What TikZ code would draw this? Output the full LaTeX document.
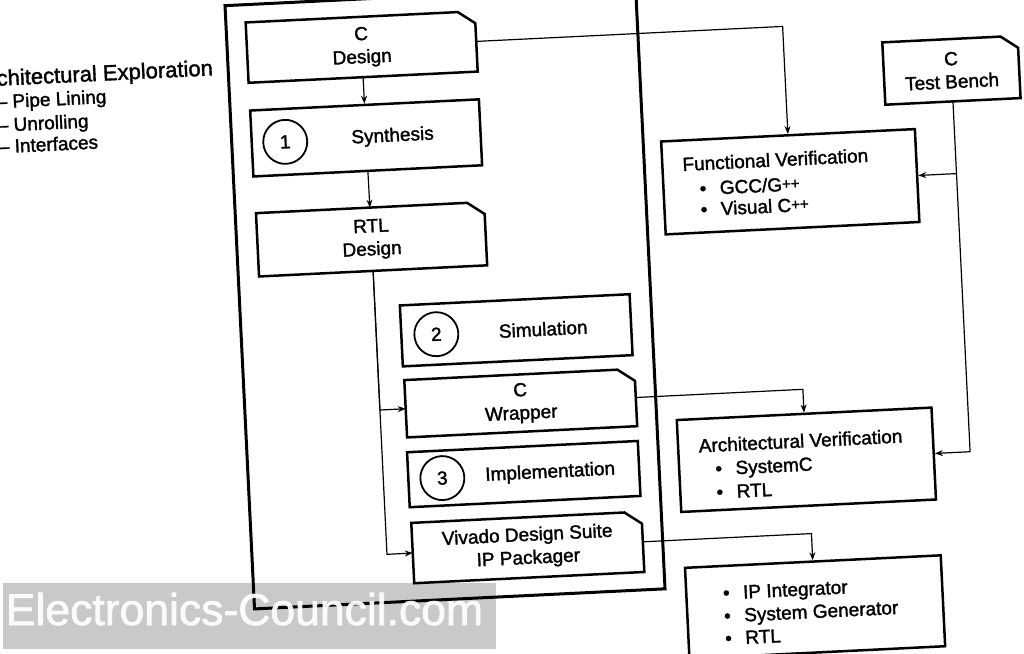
\documentclass[tikz,border=0pt]{standalone}
\usepackage{fontspec}
\setmainfont{Liberation Sans}[FakeBold=1.6]
\usetikzlibrary{arrows.meta,calc}
\newcommand{\chamferbox}[1]{\draw[line width=2.5pt, line join=miter] (#1.north west) -- ([xshift=-17pt]#1.north east) -- ([yshift=-12pt]#1.north east) -- (#1.south east) -- (#1.south west) -- cycle;}
\newcommand{\pp}{\raisebox{2pt}{\fontsize{15}{15}\selectfont ++}}
\begin{document}
\begin{tikzpicture}[x=1pt,y=-1pt,
  txt/.style={font=\fontsize{19}{23}\selectfont, inner sep=0pt},
  box/.style={draw, line width=2.5pt, inner sep=0pt},
  nobox/.style={inner sep=0pt},
  circ/.style={draw, circle, line width=1.8pt, minimum size=44pt, inner sep=0pt, font=\fontsize{19}{23}\selectfont},
  conn/.style={line width=1.2pt, -{Stealth[length=8pt,width=6pt]}}
]
\useasboundingbox (0,0) rectangle (1024,653);
\clip (0,0) rectangle (1024,653);
\fill[white] (0,0) rectangle (1024,653);
\begin{scope}[rotate around={2.8:(512,326)}, transform shape]
  % container
  \node[draw, line width=3pt, minimum width=411pt, minimum height=604pt, inner sep=0pt] (frame) at (446.5,294) {};
  % left column
  \node[nobox, txt, align=center, minimum width=229pt, minimum height=60pt] (cdesign) at (375.5,40) {C\\Design};
  \chamferbox{cdesign}
  \node[box, minimum width=229pt, minimum height=66pt] (synth) at (375.5,131) {};
  \node[circ] (n1) at (294.5,131) {1};
  \node[txt] (synthT) at (402,131) {Synthesis};
  \node[nobox, txt, align=center, minimum width=228pt, minimum height=63pt] (rtl) at (376,232.5) {RTL\\Design};
  \chamferbox{rtl}
  % right column inside frame
  \node[box, minimum width=230pt, minimum height=61pt] (sim) at (516,330.5) {};
  \node[circ] (n2) at (436,330.5) {2};
  \node[txt] (simT) at (543,330.5) {Simulation};
  \node[nobox, txt, align=center, minimum width=230pt, minimum height=57pt] (wrap) at (517,403.5) {C\\Wrapper};
  \chamferbox{wrap}
  \node[box, minimum width=231pt, minimum height=55pt] (impl) at (516.5,474.5) {};
  \node[circ] (n3) at (435,474.5) {3};
  \node[txt] (implT) at (543,474.5) {Implementation};
  \node[nobox, txt, align=center, minimum width=230pt, minimum height=60pt] (vivado) at (517,548) {Vivado Design Suite\\IP Packager};
  \chamferbox{vivado}
  % right side
  \node[nobox, txt, align=center, minimum width=135pt, minimum height=62pt] (ctb) at (963.5,92) {C\\Test Bench};
  \chamferbox{ctb}
  \node[box, minimum width=254pt, minimum height=93pt] (fv) at (797,195.5) {};
  \node[txt, anchor=base west] (fv0) at (690,179.5) {Functional Verification};
  \node[txt, anchor=base west] (fv1) at (706,204.5) {•\hspace{13.5pt}GCC/G\pp};
  \node[txt, anchor=base west] (fv2) at (706,225.5) {•\hspace{13.5pt}Visual C\pp};
  \node[box, minimum width=255pt, minimum height=92pt] (av) at (799.5,474) {};
  \node[txt, anchor=base west] (av0) at (692.5,461.5) {Architectural Verification};
  \node[txt, anchor=base west] (av1) at (708,485) {•\hspace{13.5pt}SystemC};
  \node[txt, anchor=base west] (av2) at (708,508.5) {•\hspace{13.5pt}RTL};
  \node[box, minimum width=256pt, minimum height=91pt] (ip) at (801,621.5) {};
  \node[txt, anchor=base west] (ip1) at (709.5,609.5) {•\hspace{13.5pt}IP Integrator};
  \node[txt, anchor=base west] (ip2) at (709.5,632.5) {•\hspace{13.5pt}System Generator};
  \node[txt, anchor=base west] (ip3) at (709.5,655) {•\hspace{13.5pt}RTL};
  % left text
  \node[font=\fontsize{22}{26}\selectfont, inner sep=0pt, anchor=base east] (ae) at (226,61) {Architectural Exploration};
  \node[txt, anchor=base west] (ae1) at (8,83.5) {– Pipe Lining};
  \node[txt, anchor=base west] (ae2) at (8,107) {– Unrolling};
  \node[txt, anchor=base west] (ae3) at (8,128.5) {– Interfaces};
  % connectors
  \draw[conn] (cdesign) -- (synth);
  \draw[conn] (synth) -- (rtl);
  \draw[conn] (rtl.south) |- (wrap.west);
  \draw[conn] (rtl.south) |- (vivado.west);
  \draw[conn] (cdesign.east) -| (fv.north);
  \draw[conn] (ctb.south) |- (av.east);
  \draw[conn] (ctb.south |- fv.east) -- (fv.east);
  \draw[conn] (wrap.east) -| (av.north);
  \draw[conn] (vivado.east) -| (ip.north);
\end{scope}
% watermark
\fill[black, fill opacity=0.21] (3,583) rectangle (496,649);
\node[font=\fontsize{44.5}{50}\selectfont, text=white, text opacity=0.92, anchor=base, inner sep=0pt] (wm) at (244.5,625) {Electronics-Council.com};
\end{tikzpicture}
\end{document}
